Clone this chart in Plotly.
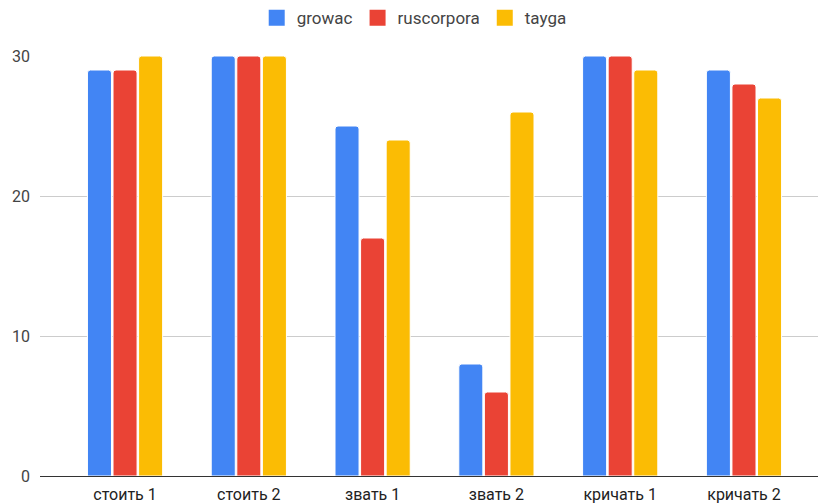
import plotly.graph_objects as go

categories = ["стоить 1", "стоить 2", "звать 1", "звать 2", "кричать 1", "кричать 2"]
growac = [29, 30, 25, 8, 30, 29]
ruscorpora = [29, 30, 17, 6, 30, 28]
tayga = [30, 30, 24, 26, 29, 27]

series = [
    ("growac", growac, "#4285F4"),
    ("ruscorpora", ruscorpora, "#EA4335"),
    ("tayga", tayga, "#FBBC04"),
]

fig = go.Figure()
for name, vals, color in series:
    fig.add_trace(go.Bar(
        name=name,
        x=categories,
        y=vals,
        legendgroup=name,
        showlegend=False,
        marker=dict(color=color, cornerradius=3, line=dict(color="white", width=1)),
    ))
    # larger square swatch for the legend entry
    fig.add_trace(go.Scatter(
        name=name,
        x=[None],
        y=[None],
        mode="markers",
        legendgroup=name,
        marker=dict(symbol="square", size=16, color=color),
        hoverinfo="skip",
    ))

fig.update_layout(
    width=818,
    height=504,
    margin=dict(l=40, r=0, t=56, b=28),
    paper_bgcolor="white",
    plot_bgcolor="white",
    barmode="group",
    bargap=0.38,
    bargroupgap=0.06,
    font=dict(family="Roboto, Arial, sans-serif", size=16, color="#444444"),
    legend=dict(
        orientation="h",
        x=0.481, xanchor="center",
        y=1.09, yanchor="middle",
        font=dict(size=17, color="#444444"),
        itemwidth=30,
        itemsizing="trace",
        tracegroupgap=0,
    ),
    xaxis=dict(
        range=[-0.687, 5.598],
        showgrid=False,
        showline=True,
        linecolor="#333333",
        linewidth=1,
        ticks="",
        ticklabelstandoff=4,
        tickfont=dict(size=16, color="#222222"),
    ),
    yaxis=dict(
        range=[0, 30],
        tickvals=[0, 10, 20, 30],
        showgrid=True,
        gridcolor="#cccccc",
        gridwidth=1,
        zeroline=True,
        zerolinecolor="#333333",
        zerolinewidth=1,
        ticks="",
        ticklabelstandoff=9,
        tickfont=dict(size=16, color="#444444"),
    ),
)

fig.write_html("out.html")
